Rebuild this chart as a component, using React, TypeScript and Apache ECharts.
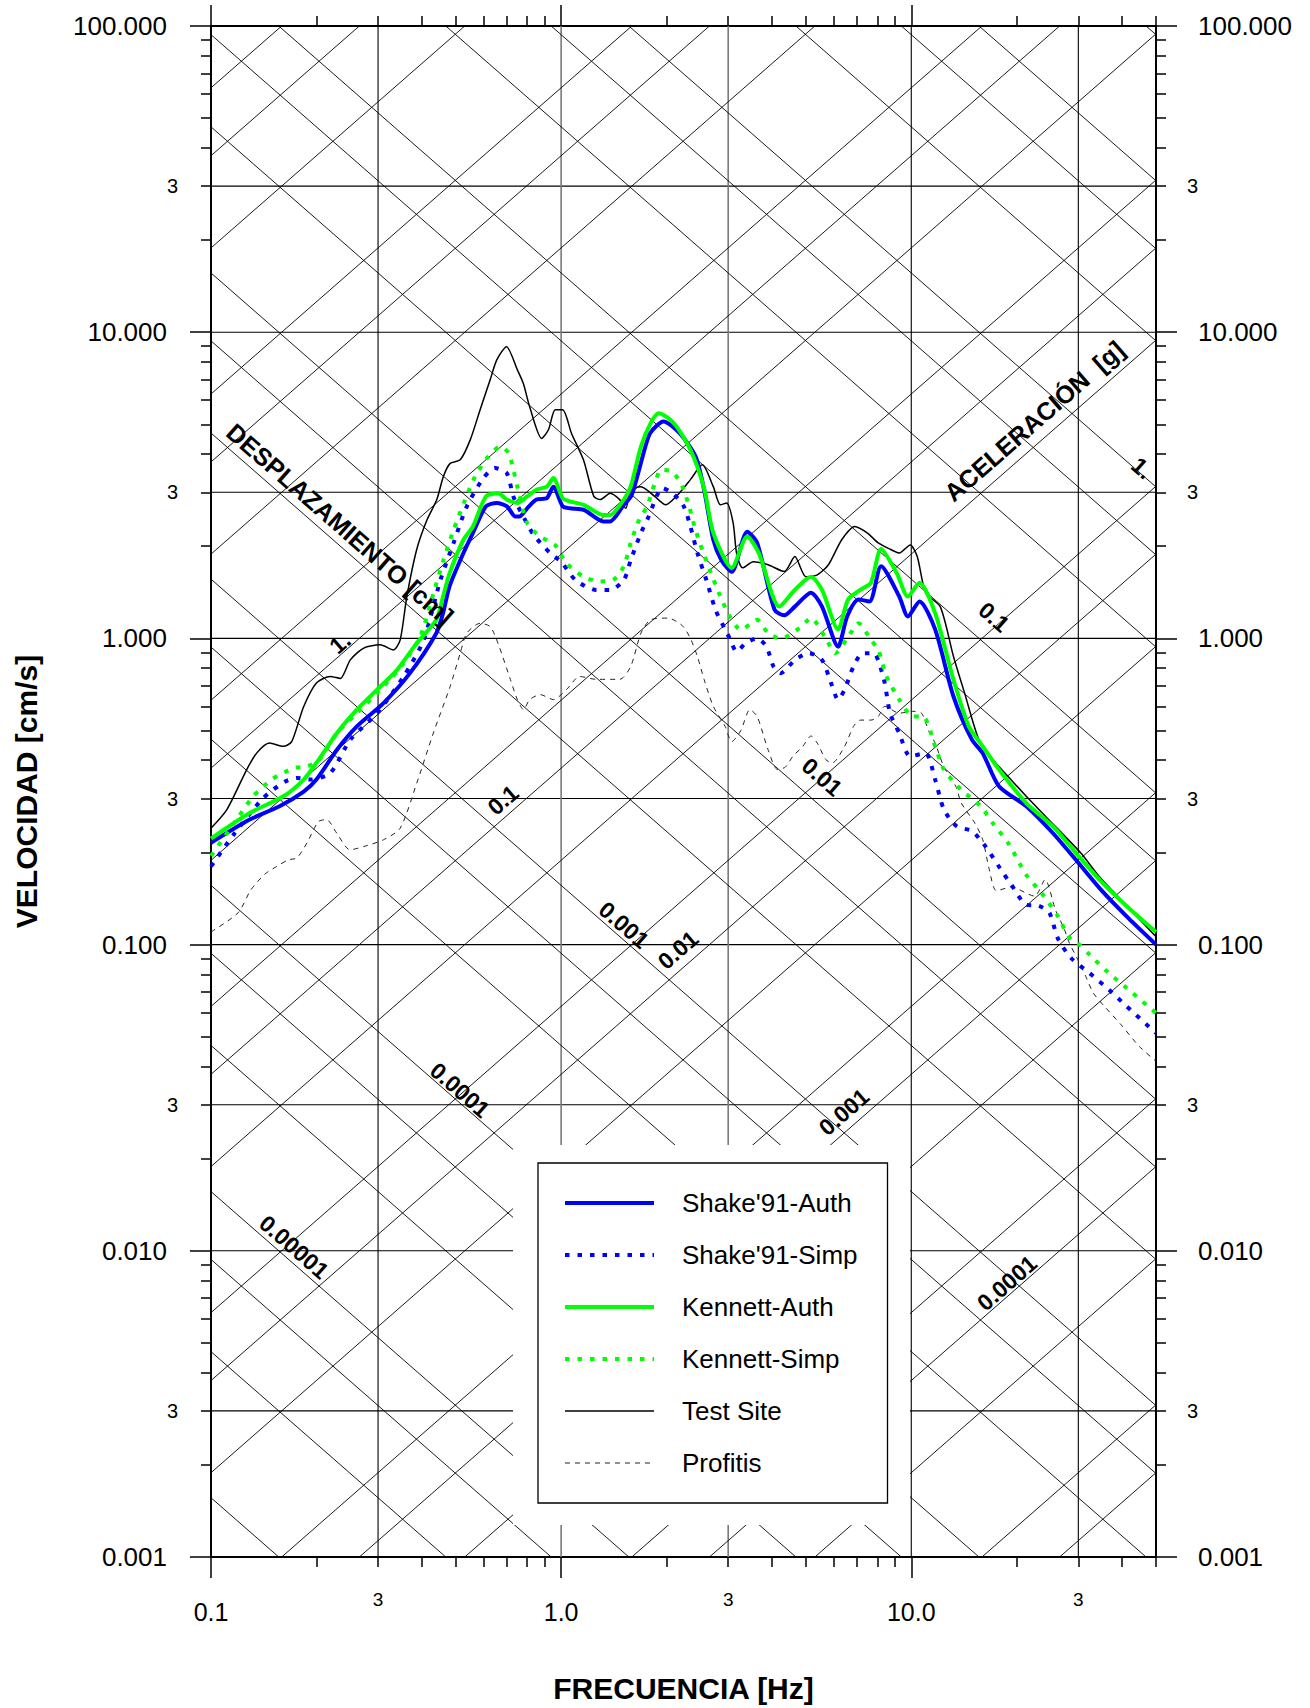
import React, { useEffect, useRef } from "react";
import * as echarts from "echarts";

const FONT = "'Liberation Sans', Arial, Helvetica, sans-serif";
const F_MIN = 0.1;
const F_MAX = 50;
const V_MIN = 0.001;
const V_MAX = 100;
const G_CM = 981;

// ---------- series data (frequency Hz, velocity cm/s) ----------
const shakeAuthF = [0.1, 0.129, 0.157, 0.184, 0.2, 0.229, 0.261, 0.311, 0.37, 0.44, 0.46, 0.48, 0.526, 0.56, 0.61, 0.655, 0.7, 0.74, 0.76, 0.8, 0.85, 0.91, 0.95, 1.01, 1.06, 1.16, 1.32, 1.38, 1.51, 1.59, 1.74, 1.8, 1.96, 2.18, 2.42, 2.56, 2.72, 2.87, 3.07, 3.4, 3.63, 4.07, 4.34, 4.65, 5.17, 5.56, 6.18, 6.56, 7.07, 7.6, 8.2, 9.24, 9.78, 10.56, 11.7, 13.2, 14.9, 16, 17.8, 21.3, 25.4, 30, 35, 41.7, 50];
const shakeAuthV = [0.215, 0.256, 0.283, 0.316, 0.346, 0.433, 0.516, 0.615, 0.77, 1.04, 1.21, 1.48, 1.9, 2.21, 2.7, 2.77, 2.7, 2.5, 2.5, 2.66, 2.84, 2.87, 3.13, 2.7, 2.66, 2.63, 2.41, 2.41, 2.73, 2.94, 4.23, 4.7, 5.11, 4.68, 3.93, 3.06, 2.1, 1.8, 1.65, 2.23, 2.05, 1.24, 1.19, 1.27, 1.41, 1.27, 0.94, 1.18, 1.34, 1.32, 1.72, 1.37, 1.18, 1.32, 1.07, 0.646, 0.467, 0.422, 0.329, 0.283, 0.231, 0.185, 0.15, 0.122, 0.1];

const shakeSimpF = [0.1, 0.116, 0.141, 0.163, 0.176, 0.192, 0.219, 0.25, 0.298, 0.355, 0.405, 0.452, 0.493, 0.538, 0.6, 0.647, 0.7, 0.73, 0.78, 0.834, 0.93, 1.0, 1.1, 1.26, 1.38, 1.51, 1.58, 1.69, 1.77, 1.95, 2.1, 2.24, 2.34, 2.45, 2.6, 2.76, 2.94, 3.03, 3.17, 3.37, 3.63, 3.86, 4.04, 4.24, 4.65, 5.1, 5.56, 5.9, 6.18, 6.45, 6.84, 7.26, 7.8, 8.35, 8.7, 9.24, 9.93, 10.98, 11.7, 12.4, 13.5, 14.9, 16.3, 17.9, 19.3, 21.3, 23.1, 24.8, 26.2, 28.6, 32.3, 36.7, 41.2, 50];
const shakeSimpV = [0.18, 0.2285, 0.301, 0.341, 0.35, 0.346, 0.363, 0.467, 0.57, 0.751, 0.989, 1.55, 2.05, 2.7, 3.34, 3.6, 3.46, 2.91, 2.5, 2.18, 1.9, 1.78, 1.55, 1.44, 1.44, 1.55, 1.8, 2.21, 2.47, 3.1, 2.95, 2.7, 2.32, 1.9, 1.55, 1.24, 1.07, 1.0, 0.906, 0.966, 1.0, 0.94, 0.81, 0.77, 0.85, 0.895, 0.85, 0.715, 0.631, 0.68, 0.81, 0.895, 0.895, 0.735, 0.57, 0.49, 0.412, 0.422, 0.346, 0.276, 0.243, 0.235, 0.209, 0.178, 0.157, 0.135, 0.134, 0.127, 0.105, 0.0904, 0.0807, 0.0712, 0.0629, 0.0514];

const kennettAuthF = [0.1, 0.129, 0.161, 0.184, 0.2, 0.229, 0.261, 0.298, 0.34, 0.387, 0.44, 0.46, 0.48, 0.526, 0.56, 0.61, 0.66, 0.7, 0.75, 0.8, 0.85, 0.91, 0.95, 1.01, 1.06, 1.16, 1.32, 1.38, 1.51, 1.58, 1.69, 1.8, 1.9, 2.1, 2.34, 2.56, 2.72, 3.07, 3.4, 3.67, 4.2, 4.65, 5.17, 5.56, 6.18, 6.6, 7.15, 7.67, 8.2, 9.1, 9.78, 10.56, 11.7, 13.2, 14.6, 16, 17.8, 21.3, 25.4, 30, 35, 41.7, 50];
const kennettAuthV = [0.222, 0.269, 0.305, 0.346, 0.392, 0.491, 0.585, 0.68, 0.79, 0.965, 1.15, 1.37, 1.63, 2.1, 2.32, 2.91, 2.98, 2.84, 2.77, 2.91, 3.06, 3.13, 3.34, 2.87, 2.8, 2.73, 2.53, 2.53, 2.84, 3.13, 4.23, 5.04, 5.44, 5.04, 4.13, 3.1, 2.21, 1.7, 2.15, 1.9, 1.27, 1.44, 1.59, 1.44, 1.07, 1.34, 1.44, 1.52, 1.96, 1.63, 1.37, 1.52, 1.21, 0.733, 0.516, 0.444, 0.373, 0.29, 0.243, 0.195, 0.16, 0.132, 0.11];

const kennettSimpF = [0.1, 0.12, 0.132, 0.149, 0.172, 0.188, 0.203, 0.229, 0.261, 0.311, 0.355, 0.396, 0.432, 0.461, 0.493, 0.532, 0.568, 0.614, 0.67, 0.708, 0.75, 0.8, 0.872, 0.96, 1.035, 1.16, 1.29, 1.41, 1.51, 1.58, 1.67, 1.76, 1.85, 1.93, 2.08, 2.22, 2.32, 2.42, 2.53, 2.68, 2.85, 3.03, 3.26, 3.63, 3.9, 4.24, 4.8, 5.17, 5.7, 6.07, 6.56, 7.07, 7.67, 8.05, 8.5, 9.24, 10.1, 10.8, 11.7, 12.4, 13.9, 15.8, 17.1, 18.9, 21.3, 23.7, 26.2, 28.2, 30.2, 32.3, 36.2, 41.2, 50];
const kennettSimpV = [0.195, 0.262, 0.305, 0.346, 0.377, 0.382, 0.4, 0.491, 0.57, 0.697, 0.83, 1.014, 1.406, 1.8, 2.26, 2.84, 3.38, 3.88, 4.23, 4.03, 3.13, 2.38, 2.15, 2.02, 1.76, 1.59, 1.535, 1.553, 1.72, 2.05, 2.44, 2.7, 3.2, 3.55, 3.5, 3.13, 2.7, 2.26, 1.945, 1.633, 1.37, 1.18, 1.067, 1.15, 1.04, 1.0, 1.08, 1.165, 1.0, 0.895, 1.0, 1.12, 0.989, 0.917, 0.751, 0.631, 0.556, 0.556, 0.444, 0.373, 0.32, 0.283, 0.249, 0.215, 0.169, 0.146, 0.124, 0.106, 0.1, 0.0927, 0.0818, 0.0722, 0.0598];

const testSiteF = [0.1, 0.111, 0.1265, 0.135, 0.147, 0.161, 0.17, 0.184, 0.2, 0.219, 0.234, 0.25, 0.273, 0.304, 0.332, 0.347, 0.3625, 0.387, 0.414, 0.4415, 0.461, 0.482, 0.515, 0.55, 0.587, 0.627, 0.655, 0.698, 0.75, 0.78, 0.813, 0.88, 0.92, 0.962, 1.01, 1.07, 1.158, 1.24, 1.294, 1.38, 1.47, 1.53, 1.58, 1.69, 1.85, 1.99, 2.15, 2.34, 2.53, 2.72, 2.85, 2.97, 3.1, 3.17, 3.3, 3.54, 3.9, 4.34, 4.65, 5.0, 5.39, 5.8, 6.33, 6.9, 7.5, 8.05, 8.7, 9.24, 9.93, 10.4, 11.0, 12.1, 13.2, 14.2, 15.6, 17.1, 18.9, 21.3, 24.2, 30.5, 34.4, 41, 50];
const testSiteV = [0.24, 0.276, 0.373, 0.422, 0.455, 0.444, 0.46, 0.599, 0.715, 0.751, 0.74, 0.851, 0.93, 0.953, 0.917, 0.989, 1.37, 1.955, 2.44, 2.84, 3.38, 3.73, 3.83, 4.45, 5.58, 6.99, 8.12, 8.97, 7.53, 6.8, 5.71, 4.5, 4.8, 5.58, 5.58, 4.68, 3.83, 2.91, 2.84, 2.98, 2.84, 2.66, 3.06, 3.13, 2.91, 2.73, 2.94, 3.3, 3.69, 3.13, 2.73, 2.77, 2.38, 1.9, 1.7, 1.78, 1.74, 1.654, 1.85, 1.59, 1.613, 1.74, 2.1, 2.32, 2.207, 2.05, 1.955, 1.9, 2.02, 1.85, 1.406, 1.27, 0.873, 0.663, 0.467, 0.402, 0.354, 0.305, 0.262, 0.199, 0.167, 0.135, 0.106];

const profitisF = [0.1, 0.1195, 0.13, 0.1426, 0.154, 0.166, 0.176, 0.188, 0.2026, 0.2138, 0.2287, 0.2495, 0.273, 0.311, 0.347, 0.387, 0.4316, 0.482, 0.515, 0.5377, 0.587, 0.627, 0.66, 0.716, 0.75, 0.781, 0.813, 0.872, 0.951, 1.035, 1.13, 1.26, 1.47, 1.58, 1.69, 1.8, 2.02, 2.22, 2.34, 2.45, 2.56, 2.72, 2.94, 3.07, 3.26, 3.46, 3.63, 3.9, 4.15, 4.37, 4.59, 4.9, 5.17, 5.39, 5.7, 5.95, 6.45, 6.84, 7.15, 7.67, 8.05, 8.4, 9.24, 10.1, 10.7, 11.2, 11.7, 12.4, 13.4, 13.9, 15.2, 16.0, 16.7, 17.5, 19.3, 22.5, 24.1, 25.8, 27.3, 28.3, 29.9, 31.5, 33.1, 35.6, 39.7, 44.8, 50];
const profitisV = [0.11, 0.127, 0.151, 0.17, 0.18, 0.189, 0.192, 0.215, 0.252, 0.256, 0.231, 0.204, 0.209, 0.22, 0.24, 0.337, 0.491, 0.697, 0.895, 1.04, 1.12, 1.093, 0.965, 0.735, 0.631, 0.585, 0.631, 0.655, 0.631, 0.68, 0.751, 0.735, 0.735, 0.81, 1.04, 1.15, 1.165, 1.1, 1.0, 0.873, 0.735, 0.6, 0.516, 0.46, 0.5, 0.585, 0.556, 0.433, 0.373, 0.38, 0.412, 0.444, 0.48, 0.455, 0.402, 0.392, 0.444, 0.516, 0.541, 0.541, 0.556, 0.6, 0.57, 0.578, 0.57, 0.5, 0.455, 0.38, 0.329, 0.29, 0.249, 0.22, 0.176, 0.15, 0.154, 0.144, 0.163, 0.13, 0.113, 0.101, 0.0893, 0.0788, 0.0695, 0.0629, 0.0548, 0.0465, 0.0416];

// ---------- axes / grid ----------
const xLabelValues = [0.1, 0.3, 1, 3, 10, 30];
const yLabelValues = [0.001, 0.003, 0.01, 0.03, 0.1, 0.3, 1, 3, 10, 30, 100];
const xMajorTicks = [0.1, 1, 10];
const yMajorTicks = [0.001, 0.01, 0.1, 1, 10, 100];
const xGridValues = [0.3, 1, 3, 10, 30];
const xGrayGridValues = [1, 3];
const yGridValues = [0.003, 0.01, 0.03, 0.1, 0.3, 1, 3, 10, 30];
const diagMantissas = [1, 3, 6];
const dispExponents = [-6, -5, -4, -3, -2, -1, 0, 1, 2];
const accExponents = [-7, -6, -5, -4, -3, -2, -1, 0, 1];

// tripartite labels (text, pixel centre)
const dispLabels = [
  { text: "1.", x: 340, y: 643 },
  { text: "0.1", x: 503, y: 800 },
  { text: "0.01", x: 678, y: 950 },
  { text: "0.001", x: 844, y: 1112 },
  { text: "0.0001", x: 1007, y: 1283 },
];
const accLabels = [
  { text: "0.00001", x: 294, y: 1247 },
  { text: "0.0001", x: 460, y: 1090 },
  { text: "0.001", x: 624, y: 925 },
  { text: "0.01", x: 822, y: 777 },
  { text: "0.1", x: 994, y: 617 },
  { text: "1.", x: 1142, y: 468 },
];

const GRID = { left: 211, top: 26, right: 154, bottom: 151 };

function minorTicks(lo: number, hi: number): number[] {
  const out: number[] = [];
  for (let e = Math.floor(Math.log10(lo)); e <= Math.ceil(Math.log10(hi)); e++) {
    for (let m = 2; m <= 9; m++) {
      const v = parseFloat((m * Math.pow(10, e)).toPrecision(6));
      if (v >= lo * 0.9999 && v <= hi * 1.0001) out.push(v);
    }
  }
  return out;
}

const isPow10 = (v: number) => Math.abs(Math.log10(v) - Math.round(Math.log10(v))) < 1e-6;
const zip = (f: number[], v: number[]) => f.map((x, i) => [x, v[i]]);

function buildOption() {
  const plotW = 1310 - GRID.left - GRID.right;
  const plotH = 1708 - GRID.top - GRID.bottom;
  const decX = plotW / Math.log10(F_MAX / F_MIN);
  const decY = plotH / Math.log10(V_MAX / V_MIN);
  const ANG = Math.atan(decY / decX);

  const series: any[] = [];
  const thin = (data: number[][], color: string, width: number) => ({
    type: "line",
    data,
    symbol: "none",
    silent: true,
    clip: true,
    z: 1,
    xAxisIndex: 0,
    yAxisIndex: 0,
    lineStyle: { color, width },
    emphasis: { disabled: true },
  });

  yGridValues.forEach((v) => series.push(thin([[F_MIN, v], [F_MAX, v]], "#000", 1.1)));
  xGridValues.forEach((f) => {
    const gray = xGrayGridValues.indexOf(f) >= 0;
    series.push(thin([[f, V_MIN], [f, V_MAX]], gray ? "#7a7a7a" : "#000", gray ? 1.6 : 1.1));
  });
  // constant displacement lines: V = 2 pi f D
  dispExponents.forEach((e) =>
    diagMantissas.forEach((m) => {
      const D = m * Math.pow(10, e);
      series.push(thin([[F_MIN, 2 * Math.PI * F_MIN * D], [F_MAX, 2 * Math.PI * F_MAX * D]], "#000", 0.9));
    })
  );
  // constant acceleration lines: V = A g / (2 pi f)
  accExponents.forEach((e) =>
    diagMantissas.forEach((m) => {
      const A = m * Math.pow(10, e);
      series.push(thin([[F_MIN, (A * G_CM) / (2 * Math.PI * F_MIN)], [F_MAX, (A * G_CM) / (2 * Math.PI * F_MAX)]], "#000", 0.9));
    })
  );

  const dataDefs = [
    { name: "Shake'91-Auth", f: shakeAuthF, v: shakeAuthV, color: "#0000ff", width: 4, type: "solid" as any, z: 6 },
    { name: "Shake'91-Simp", f: shakeSimpF, v: shakeSimpV, color: "#0000ff", width: 4, type: [4.5, 8] as any, z: 6 },
    { name: "Kennett-Auth", f: kennettAuthF, v: kennettAuthV, color: "#00ff00", width: 4, type: "solid" as any, z: 6 },
    { name: "Kennett-Simp", f: kennettSimpF, v: kennettSimpV, color: "#00ff00", width: 4, type: [4.5, 8] as any, z: 6 },
    { name: "Test Site", f: testSiteF, v: testSiteV, color: "#000000", width: 1.5, type: "solid" as any, z: 5 },
    { name: "Profitis", f: profitisF, v: profitisV, color: "#222222", width: 1, type: [5, 5] as any, z: 5 },
  ];
  dataDefs.forEach((d) =>
    series.push({
      type: "line",
      name: d.name,
      data: zip(d.f, d.v),
      xAxisIndex: 0,
      yAxisIndex: 0,
      symbol: "none",
      smooth: 0.25,
      clip: true,
      z: d.z,
      color: d.color,
      lineStyle: { color: d.color, width: d.width, type: d.type },
      emphasis: { disabled: true },
    })
  );

  const tickStyle = { color: "#000", width: 1.5 };
  const xMinor = minorTicks(F_MIN, F_MAX);
  const yMinor = minorTicks(V_MIN, V_MAX);
  const base = { type: "log", logBase: 10, splitLine: { show: false }, minorTick: { show: false }, gridIndex: 0 };

  const xFmt = (v: number) => (isPow10(v) ? `{a|${v.toFixed(1)}}` : "{b|3}");
  const yFmt = (v: number) => (isPow10(v) ? `{a|${v.toFixed(3)}}` : "{b|3}");

  const xAxis = [
    {
      ...base,
      min: F_MIN,
      max: F_MAX,
      position: "bottom",
      axisLine: { show: true, onZero: false, lineStyle: { color: "#000", width: 2 } },
      axisTick: { show: true, customValues: xMinor, length: 10, inside: false, lineStyle: tickStyle },
      axisLabel: {
        show: true,
        customValues: xLabelValues,
        margin: 32,
        formatter: xFmt,
        color: "#000",
        rich: {
          a: { fontSize: 25, lineHeight: 28, padding: [17, 0, 0, 0], fontFamily: FONT, color: "#000" },
          b: { fontSize: 19, lineHeight: 20, fontFamily: FONT, color: "#000" },
        },
      },
      name: "FRECUENCIA [Hz]",
      nameLocation: "middle",
      nameGap: 116,
      nameTextStyle: { fontSize: 30, fontWeight: "bold", color: "#000", fontFamily: FONT },
    },
    {
      ...base,
      min: F_MIN,
      max: F_MAX,
      position: "bottom",
      axisLine: { show: false, onZero: false },
      axisTick: { show: true, customValues: xMajorTicks, length: 21, inside: false, lineStyle: tickStyle },
      axisLabel: { show: false },
    },
    {
      ...base,
      min: F_MIN,
      max: F_MAX,
      position: "top",
      axisLine: { show: true, onZero: false, lineStyle: { color: "#000", width: 2 } },
      axisTick: { show: true, customValues: xMinor, length: 10, inside: false, lineStyle: tickStyle },
      axisLabel: { show: false },
    },
    {
      ...base,
      min: F_MIN,
      max: F_MAX,
      position: "top",
      axisLine: { show: false, onZero: false },
      axisTick: { show: true, customValues: xMajorTicks, length: 21, inside: false, lineStyle: tickStyle },
      axisLabel: { show: false },
    },
  ];

  const yAxis = [
    {
      ...base,
      min: V_MIN,
      max: V_MAX,
      position: "left",
      axisLine: { show: true, onZero: false, lineStyle: { color: "#000", width: 2 } },
      axisTick: { show: true, customValues: yMinor, length: 10, inside: false, lineStyle: tickStyle },
      axisLabel: {
        show: true,
        customValues: yLabelValues,
        margin: 33,
        formatter: yFmt,
        color: "#000",
        rich: {
          a: { fontSize: 26, padding: [0, 11, 0, 0], fontFamily: FONT, color: "#000" },
          b: { fontSize: 20, fontFamily: FONT, color: "#000" },
        },
      },
      name: "VELOCIDAD [cm/s]",
      nameLocation: "middle",
      nameRotate: 90,
      nameGap: 170,
      nameTextStyle: { fontSize: 30, fontWeight: "bold", color: "#000", fontFamily: FONT },
    },
    {
      ...base,
      min: V_MIN,
      max: V_MAX,
      position: "left",
      axisLine: { show: false, onZero: false },
      axisTick: { show: true, customValues: yMajorTicks, length: 21, inside: false, lineStyle: tickStyle },
      axisLabel: { show: false },
    },
    {
      ...base,
      min: V_MIN,
      max: V_MAX,
      position: "right",
      axisLine: { show: true, onZero: false, lineStyle: { color: "#000", width: 2 } },
      axisTick: { show: true, customValues: yMinor, length: 10, inside: false, lineStyle: tickStyle },
      axisLabel: {
        show: true,
        customValues: yLabelValues,
        margin: 31,
        formatter: yFmt,
        color: "#000",
        rich: {
          a: { fontSize: 26, padding: [0, 0, 0, 11], fontFamily: FONT, color: "#000" },
          b: { fontSize: 20, fontFamily: FONT, color: "#000" },
        },
      },
    },
    {
      ...base,
      min: V_MIN,
      max: V_MAX,
      position: "right",
      axisLine: { show: false, onZero: false },
      axisTick: { show: true, customValues: yMajorTicks, length: 21, inside: false, lineStyle: tickStyle },
      axisLabel: { show: false },
    },
  ];

  const diagText = (t: string, x: number, y: number, rot: number, size: number) => ({
    type: "text",
    x,
    y,
    rotation: rot,
    z: 20,
    silent: true,
    style: {
      text: t,
      fill: "#000",
      fontSize: size,
      fontWeight: "bold",
      fontFamily: FONT,
      align: "center",
      verticalAlign: "middle",
    },
  });

  const graphic: any[] = [
    {
      type: "rect",
      z: 3,
      silent: true,
      shape: { x: 513, y: 1145, width: 397, height: 380 },
      style: { fill: "#ffffff" },
    },
    ...dispLabels.map((l) => diagText(l.text, l.x, l.y, ANG, 23)),
    ...accLabels.map((l) => diagText(l.text, l.x, l.y, -ANG, 23)),
    diagText("DESPLAZAMIENTO [cm]", 340, 524, -ANG, 25),
    diagText("ACELERACIÓN  [g]", 1034, 421, ANG, 25),
  ];

  return {
    animation: false,
    backgroundColor: "#ffffff",
    textStyle: { fontFamily: FONT, color: "#000" },
    grid: { ...GRID, containLabel: false, outerBoundsMode: "none" },
    legend: {
      data: dataDefs.map((d) => d.name),
      orient: "vertical",
      left: 538,
      top: 1163,
      padding: [27, 30, 27, 25],
      itemWidth: 89,
      itemHeight: 24,
      itemGap: 26,
      backgroundColor: "#ffffff",
      borderColor: "#000",
      borderWidth: 1.3,
      selectedMode: false,
      z: 10,
      itemStyle: { opacity: 0, borderWidth: 0 },
      lineStyle: { width: "inherit" },
      textStyle: { fontFamily: FONT, fontSize: 26, color: "#000", padding: [0, 0, 0, 23] },
    },
    xAxis,
    yAxis,
    series,
    graphic,
  };
}

export default function App() {
  const ref = useRef<HTMLDivElement>(null);
  useEffect(() => {
    if (!ref.current) return;
    const chart = echarts.init(ref.current, null, { renderer: "svg" });
    chart.setOption(buildOption() as any);
    return () => chart.dispose();
  }, []);
  return (
    <div
      ref={ref}
      style={{ position: "absolute", left: 0, top: 0, width: 1310, height: 1708, background: "#fff" }}
    />
  );
}
